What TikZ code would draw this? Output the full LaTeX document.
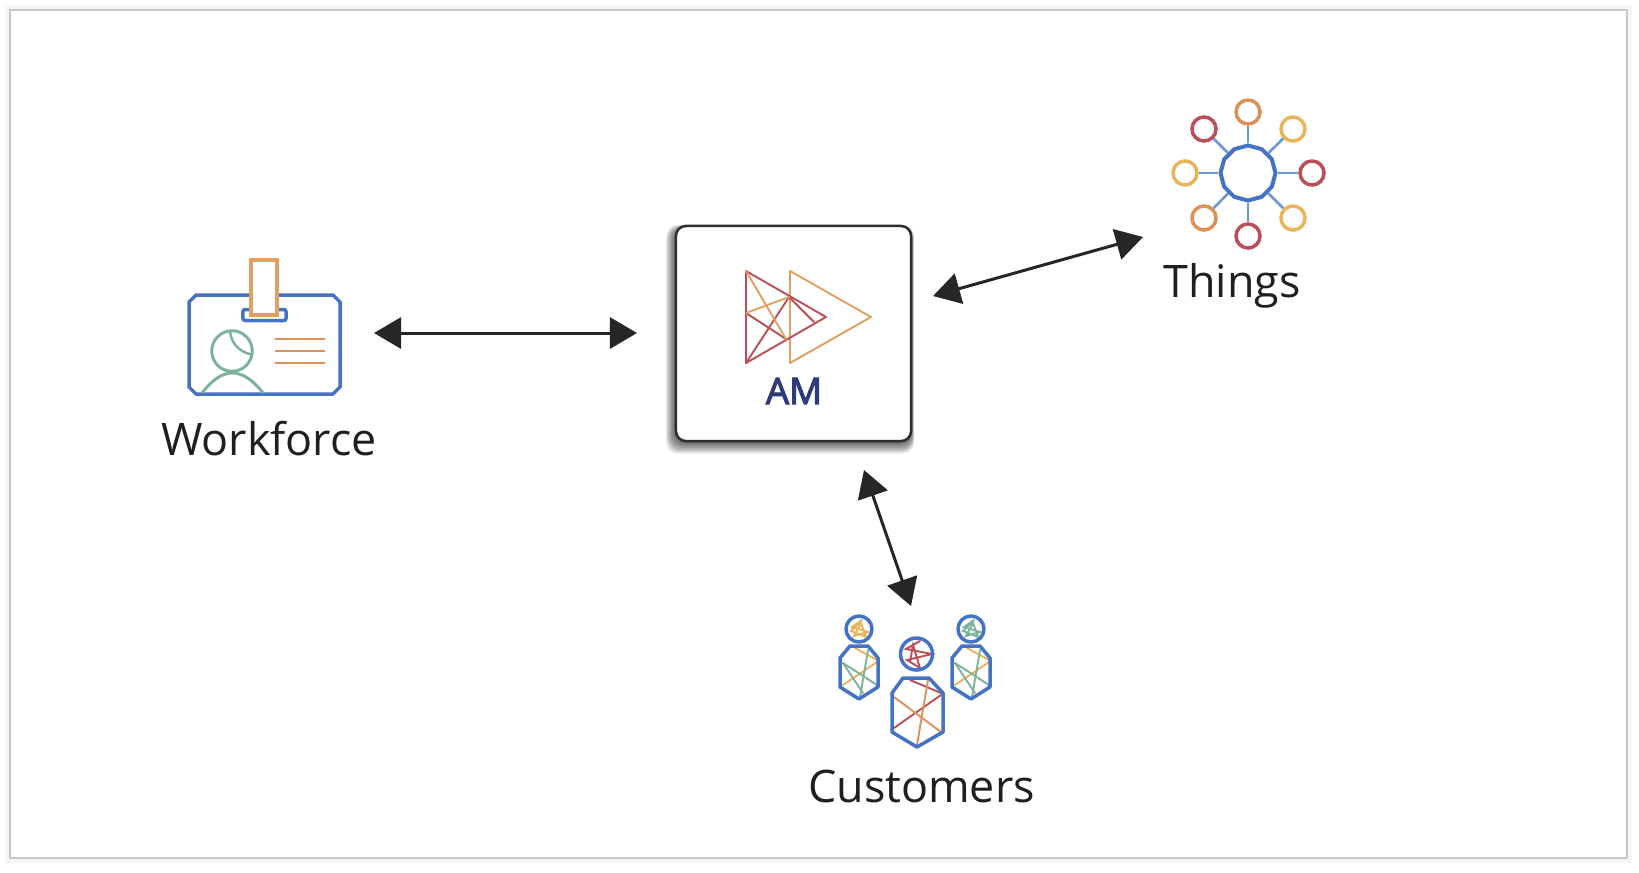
\documentclass[tikz,border=0pt]{standalone}
\usepackage{fontspec}
\setmainfont{Open Sans}
\newfontfamily\amfont[FakeBold=3]{Open Sans}
\usetikzlibrary{arrows.meta,shapes.geometric}
\definecolor{iconBlue}{HTML}{4472C4}
\definecolor{spokeBlue}{HTML}{6F97D2}
\definecolor{iconOrange}{HTML}{E0A060}
\definecolor{iconBrown}{HTML}{DD9058}
\definecolor{iconYellow}{HTML}{E8B45C}
\definecolor{iconRed}{HTML}{B94F57}
\definecolor{iconGreen}{HTML}{7DB39C}
\definecolor{amNavy}{HTML}{2F3B78}
\tikzset{
  caption/.style={anchor=base,inner sep=0pt,font=\fontsize{12.75pt}{15pt}\selectfont,text=black!88},
  bothways/.style={{Triangle[length=0.27cm,width=0.31cm]}-{Triangle[length=0.27cm,width=0.31cm]},line width=0.03cm,draw=black!85},
  ring/.style={circle,draw,line width=0.035cm,minimum size=0.24cm,inner sep=0pt,fill=white},
  spoke/.style={draw=spokeBlue,line width=0.026cm},
  outline/.style={draw=iconBlue,line width=0.035cm,line join=round},
  thin ink/.style={line width=0.019cm,line cap=round}
}
\begin{document}
\begin{tikzpicture}[x=0.01cm,y=-0.01cm]
  \useasboundingbox (0,0) rectangle (1639,872);
  % frame
  \draw[black!4,line width=0.1cm] (10,10) rectangle (1627,858);
  \draw[black!22,line width=0.025cm,fill=white] (10,10) rectangle (1627,858);

  % workforce badge
  \draw[outline] (196,295) -- (333,295) -- (340,302) -- (340,387) -- (333,394) -- (196,394) -- (189,387) -- (189,302) -- cycle;
  \node[outline,fill=white,rounded corners=0.02cm,minimum width=0.43cm,minimum height=0.11cm,inner sep=0pt] (slot) at (264.5,315) {};
  \node[draw=iconOrange,fill=white,line width=0.035cm,minimum width=0.255cm,minimum height=0.55cm,inner sep=0pt] (clip) at (264,287.5) {};
  \node[circle,draw=iconGreen,line width=0.03cm,minimum size=0.405cm,inner sep=0pt] (head) at (232,351) {};
  \draw[iconGreen,line width=0.025cm] (230,332) .. controls (232,345) and (240,352) .. (253,355);
  \draw[iconGreen,line width=0.03cm] (202,393) .. controls (212,380) and (222,373) .. (232,373) .. controls (243,373) and (253,380) .. (263,393);
  \foreach \py in {339,351,363}
    \draw[iconBrown,line width=0.02cm] (275,\py) -- (325,\py);
  \node[caption] (workforce) at (269,455) {Workforce};

  % am box
  \foreach \g in {1,...,9}
    \fill[black,opacity=0.09,rounded corners=0.12cm] (676-\g*1.1,229-\g*0.45) rectangle (911+\g*0.35,441+\g*1.4);
  \node[draw=black!82,fill=white,line width=0.025cm,rounded corners=0.1cm,minimum width=2.35cm,minimum height=2.15cm,inner sep=0pt] (am) at (793.5,333.5) {};
  \draw[iconOrange,thin ink,line join=round] (790,271) -- (790,363) -- (871,317) -- cycle;
  \draw[iconRed,thin ink,line join=round] (746,271) -- (746,363) -- (826,317) -- cycle;
  \draw[iconRed,thin ink] (746,363) -- (789,297) -- (814,322);
  \draw[iconRed,thin ink] (746,313) -- (786,339);
  \draw[iconOrange,thin ink] (746,271) -- (786,339);
  \draw[iconOrange,thin ink] (746,313) -- (789,297);
  \node[anchor=base,inner sep=0pt,font=\fontsize{10.4pt}{12pt}\amfont,text=amNavy] (amLabel) at (794,404) {AM};

  % things
  \node[regular polygon,regular polygon sides=12,shape border rotate=15,outline,line width=0.04cm,minimum size=0.55cm,inner sep=0pt] (hub) at (1248,173) {};
  \foreach \name/\px/\py/\ink in {nTop/1248/112/iconBrown,nUpRight/1293/129/iconYellow,nRight/1312/173/iconRed,nLowRight/1293/218/iconYellow,nBottom/1248/236/iconRed,nLowLeft/1204/218/iconBrown,nLeft/1185/173/iconYellow,nUpLeft/1204/129/iconRed}{
    \node[ring,draw=\ink] (\name) at (\px,\py) {};
    \draw[spoke] (hub) -- (\name);
  }
  \node[caption] (things) at (1232,297) {Things};

  % customers, the two side ones
  \foreach \dx/\ink in {0/iconYellow,112/iconGreen}{
    \begin{scope}[xshift=\dx*0.01cm]
      \draw[iconYellow,thin ink] (855,648) -- (877,660);
      \draw[iconYellow,thin ink] (877,662) -- (843,685);
      \draw[iconGreen,thin ink] (843,663) -- (863,693);
      \draw[iconGreen,thin ink] (868,650) -- (860,697);
      \draw[iconGreen,thin ink] (843,663) -- (877,685);
      \draw[outline] (850,646) -- (868,646) -- (878,658) -- (878,687) -- (859,699) -- (840,687) -- (840,658) -- cycle;
      \draw[\ink,thin ink] (862,620) -- (852,627) -- (868,632) -- (854,636) -- (861,623) -- (866,637) -- (851,631) -- (862,620);
      \node[circle,outline,minimum size=0.26cm,inner sep=0pt] at (859,629) {};
    \end{scope}
  }
  % customers, the middle one
  \draw[iconRed,thin ink] (910,680) -- (941,693);
  \draw[iconRed,thin ink] (941,695) -- (894,728);
  \draw[iconBrown,thin ink] (928,680) -- (917,745);
  \draw[iconBrown,thin ink] (894,697) -- (941,732);
  \draw[outline] (903,678) -- (929,678) -- (943,693) -- (943,732) -- (917,747) -- (892,732) -- (892,693) -- cycle;
  \draw[iconRed,thin ink] (920,641) -- (906,649) -- (932,654) -- (907,660) -- (920,668) -- (913,645) -- (910,662);
  \node[circle,outline,minimum size=0.32cm,inner sep=0pt] (midHead) at (916.5,654) {};
  \node[caption] (customers) at (921.5,802) {Customers};

  % arrows
  \coordinate (wfEnd) at (374,333);
  \coordinate (amWest) at (637,333);
  \coordinate (amEast) at (933,296);
  \coordinate (thingsEnd) at (1143,237);
  \coordinate (amSouth) at (864,470);
  \coordinate (custEnd) at (911,606);
  \draw[bothways] (wfEnd) -- (amWest);
  \draw[bothways] (amEast) -- (thingsEnd);
  \draw[bothways] (amSouth) -- (custEnd);
\end{tikzpicture}
\end{document}
